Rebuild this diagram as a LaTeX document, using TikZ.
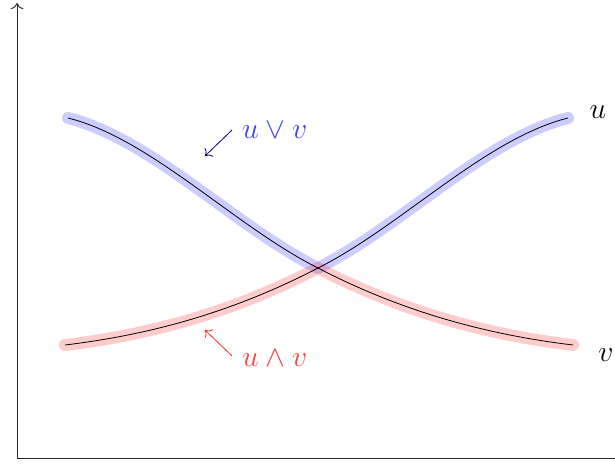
\documentclass[tikz,border=0pt]{standalone}
\usetikzlibrary{arrows.meta}
\begin{document}
\begin{tikzpicture}[x=1pt,y=-1pt,
  >={To[scale=1.7]},
  axis/.style={line width=0.9pt,draw=black!85},
  hlmax/.style={line width=12pt,draw=blue,opacity=0.2,line cap=round,line join=round},
  hlmin/.style={line width=12pt,draw=red,opacity=0.2,line cap=round,line join=round},
  curve/.style={line width=0.8pt,draw=black},
  lbl/.style={font=\fontsize{24.88}{30}\selectfont,inner sep=0pt,scale=1.2},
  ptr/.style={->,line width=0.8pt}]
\useasboundingbox (0,0) rectangle (615,468);
% axes
\coordinate (O) at (17,458);
\coordinate (Ytop) at (17,3);
\coordinate (Xend) at (615,458);
\draw[axis,->] (O) -- (Ytop);
\draw[axis] (O) -- (Xend);
% key points
\coordinate (fS) at (68,118);
\coordinate (X) at (318,268);
\coordinate (fE) at (573,345);
\coordinate (gS) at (65,345);
\coordinate (gE) at (568,118);
% highlights
\draw[hlmax] (fS) .. controls (151,138.75) and (235,226.5) .. (X)
  .. controls (401,226.5) and (485,138.75) .. (gE);
\draw[hlmin] (gS) .. controls (150,334.8) and (233,312.2) .. (X)
  .. controls (403,312.2) and (488,334.8) .. (fE);
% curves
\draw[curve] (fS) .. controls (151,138.75) and (235,226.5) .. (X)
  .. controls (403,312.2) and (488,334.8) .. (fE);
\draw[curve] (gS) .. controls (150,334.8) and (233,312.2) .. (X)
  .. controls (401,226.5) and (485,138.75) .. (gE);
% labels
\node[lbl] (u) at (598,112) {$u$};
\node[lbl] (v) at (606,355) {$v$};
\node[lbl,text=blue!75,anchor=west] (max) at (242,130) {$u\vee v$};
\node[lbl,text=red!75,anchor=west] (min) at (242,358) {$u\wedge v$};
\coordinate (maxS) at (232,130);
\coordinate (maxE) at (205,156);
\coordinate (minS) at (232,356);
\coordinate (minE) at (205,330);
\draw[ptr,draw=blue!50!black] (maxS) -- (maxE);
\draw[ptr,draw=red!85] (minS) -- (minE);
\end{tikzpicture}
\end{document}
